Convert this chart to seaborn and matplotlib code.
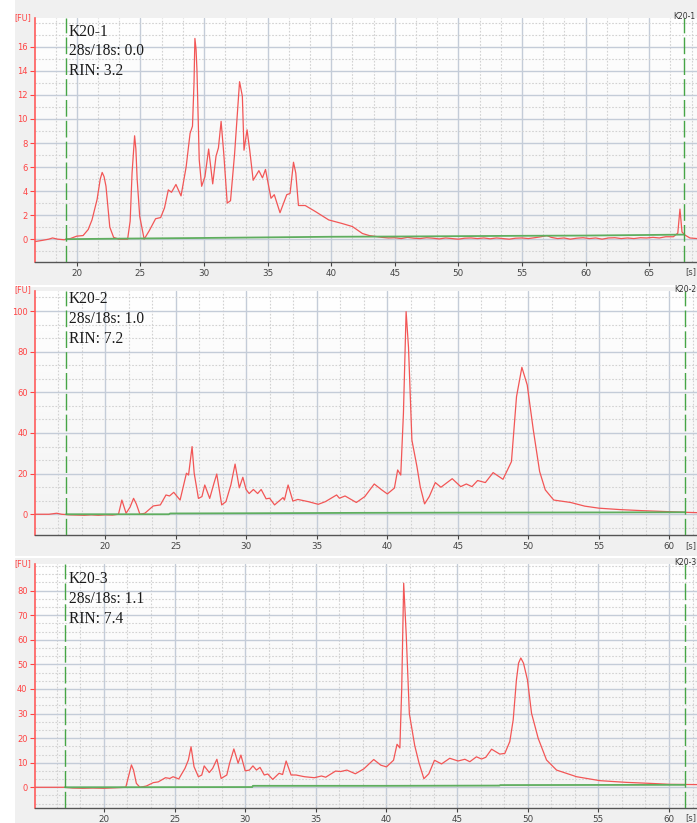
import numpy as np
import pandas as pd
import matplotlib
matplotlib.use("Agg")
import matplotlib.pyplot as plt
import seaborn as sns
from matplotlib.patches import Rectangle
from matplotlib.ticker import MultipleLocator
from matplotlib.colors import LinearSegmentedColormap

# ---------------- data ----------------
sample_names = ["K20-1", "K20-2", "K20-3"]
ratio_28s_18s = [0.0, 1.0, 1.1]
rin_values = [3.2, 7.2, 7.4]

# K20-1 electropherogram (time [s], fluorescence [FU])
t1 = [16.72, 17.3, 17.8, 18.1, 18.5, 19.0, 19.5, 20.0, 20.5, 20.9, 21.2, 21.6, 21.85,
      22.0, 22.15, 22.3, 22.6, 22.9, 23.3, 24.0, 24.2, 24.35, 24.55, 24.65, 24.75, 24.95,
      25.3, 25.7, 26.2, 26.6, 26.9, 27.2, 27.45, 27.8, 28.2, 28.6, 28.91, 29.1, 29.22,
      29.29, 29.38, 29.45, 29.63, 29.82, 30.08, 30.37, 30.69, 30.95, 31.14, 31.35, 31.56,
      31.83, 32.09, 32.41, 32.8, 33.02, 33.15, 33.39, 33.6, 33.87, 34.32, 34.6, 34.84,
      35.27, 35.53, 35.98, 36.51, 36.77, 37.04, 37.22, 37.43, 37.96, 38.76, 39.81, 40.87,
      41.67, 42.46, 43.0, 44.0, 44.5, 45.0, 45.5, 46.0, 46.5, 47.0, 47.5, 48.0, 48.5, 49.0,
      49.5, 50.0, 50.5, 51.0, 51.5, 52.0, 52.5, 53.0, 53.5, 54.0, 54.5, 55.0, 55.5, 56.0,
      56.5, 56.96, 57.3, 57.8, 58.3, 58.8, 59.3, 59.8, 60.3, 60.8, 61.3, 61.8, 62.3, 62.8,
      63.3, 63.8, 64.3, 64.8, 65.3, 65.8, 66.3, 66.9, 67.25, 67.42, 67.58, 67.8, 68.2, 68.76]
v1 = [-0.2, -0.1, 0.0, 0.1, 0.0, -0.05, 0.05, 0.25, 0.3, 0.8, 1.6, 3.3, 5.0,
      5.55, 5.2, 4.4, 1.0, 0.15, 0.0, 0.0, 1.5, 5.5, 8.6, 7.5, 5.0, 1.9,
      0.0, 0.7, 1.7, 1.8, 2.6, 4.1, 3.9, 4.55, 3.6, 6.0, 8.8, 9.4, 13.0,
      16.7, 15.8, 14.1, 6.6, 4.4, 5.2, 7.5, 4.6, 6.9, 7.6, 9.8, 7.1,
      3.0, 3.2, 7.1, 13.1, 11.9, 7.4, 9.1, 7.4, 4.9, 5.7, 5.1, 5.8,
      3.4, 3.7, 2.2, 3.7, 3.8, 6.4, 5.5, 2.8, 2.8, 2.3, 1.6, 1.3,
      1.05, 0.47, 0.3, 0.15, 0.1, 0.12, 0.05, 0.15, 0.08, 0.05, 0.12, 0.08, 0.02, 0.1,
      0.05, 0.0, 0.08, 0.1, 0.05, 0.1, 0.03, 0.1, 0.05, 0.0, 0.08, 0.1, 0.05, 0.12,
      0.2, 0.3, 0.15, 0.05, 0.1, 0.0, 0.08, 0.12, 0.05, 0.1, 0.0, 0.1, 0.12, 0.05,
      0.1, 0.05, 0.12, 0.1, 0.15, 0.1, 0.2, 0.2, 0.5, 2.5, 0.6, 0.35, 0.1, 0.05]
g1x = [19.16, 24.0, 30.0, 35.0, 40.0, 45.0, 50.0, 55.0, 60.0, 65.0, 67.76]
g1y = [0.0, 0.05, 0.1, 0.15, 0.2, 0.22, 0.25, 0.28, 0.3, 0.35, 0.38]

# K20-2
t2 = [15.01, 16.0, 16.55, 16.9, 17.5, 18.5, 19.0, 19.5, 20.0, 20.5, 20.93, 21.17, 21.47,
      21.75, 22.0, 22.2, 22.45, 22.8, 23.4, 23.9, 24.3, 24.55, 24.85, 25.3, 25.75, 25.9,
      26.15, 26.3, 26.6, 26.85, 27.05, 27.4, 27.7, 27.9, 28.25, 28.55, 28.9, 29.2, 29.5,
      29.75, 29.98, 30.2, 30.5, 30.8, 31.05, 31.4, 31.65, 32.0, 32.6, 32.7, 32.96, 33.3,
      33.65, 34.4, 35.1, 35.6, 36.4, 36.6, 37.0, 37.8, 38.4, 39.07, 39.6, 40.0, 40.5,
      40.73, 40.95, 41.14, 41.33, 41.5, 41.74, 42.1, 42.33, 42.64, 42.97, 43.4, 43.8,
      44.6, 45.2, 45.6, 46.0, 46.4, 46.95, 47.5, 48.2, 48.8, 49.16, 49.54, 49.92, 50.35,
      50.8, 51.2, 51.8, 53.0, 54.0, 55.0, 56.5, 58.0, 59.5, 61.0, 61.96]
v2 = [0, 0, 0.5, 0, -0.3, -0.5, -0.3, -0.5, -0.3, -0.4, 0, 7.0, 0.5,
      3.5, 7.85, 5.0, 0, 0.5, 4.1, 4.6, 9.5, 9.0, 10.8, 7.0, 20.2, 19.3,
      33.3, 20.2, 7.8, 8.7, 14.4, 7.8, 15.2, 19.8, 4.6, 6.2, 14.4, 24.7, 13.0,
      18.2, 12.2, 10.2, 12.2, 10.2, 12.2, 7.6, 7.9, 4.6, 8.2, 7.0, 14.4, 6.5,
      7.3, 6.2, 4.9, 6.2, 9.5, 7.9, 9.0, 5.8, 8.7, 14.9, 12.0, 10.0, 12.9,
      21.8, 19.3, 49.7, 99.7, 82.0, 36.5, 23.4, 13.6, 5.1, 8.7, 15.6, 13.3,
      17.5, 13.6, 14.9, 13.6, 16.6, 15.6, 20.5, 17.2, 25.9, 57.9, 72.3, 63.6, 41.5,
      21.0, 12.0, 7.0, 5.8, 4.0, 3.0, 2.3, 1.8, 1.4, 1.0, 0.8]
g2x = [17.21, 24.5, 24.6, 30.0, 38.3, 45.0, 55.0, 61.11]
g2y = [0.0, 0.0, 0.4, 0.5, 0.7, 0.8, 0.9, 1.0]

# K20-3
t3 = [15.09, 16.5, 17.2, 17.8, 18.5, 19.2, 20.0, 20.8, 21.55, 21.75, 21.95, 22.1, 22.3,
      22.55, 23.0, 23.5, 23.85, 24.36, 24.67, 24.9, 25.3, 25.74, 25.98, 26.17, 26.38,
      26.69, 26.93, 27.1, 27.46, 27.7, 28.0, 28.3, 28.7, 28.9, 29.2, 29.5, 29.7, 30.0,
      30.3, 30.55, 30.8, 31.05, 31.35, 31.6, 31.95, 32.4, 32.65, 32.9, 33.25, 33.6, 34.2,
      34.9, 35.4, 35.7, 36.4, 36.75, 37.2, 37.8, 38.4, 39.1, 39.6, 40.0, 40.5, 40.75,
      40.95, 41.08, 41.22, 41.4, 41.62, 42.0, 42.3, 42.65, 43.0, 43.4, 43.9, 44.48, 45.07,
      45.55, 45.9, 46.37, 46.73, 47.03, 47.44, 48.02, 48.38, 48.73, 48.97, 49.2, 49.35,
      49.51, 49.7, 49.98, 50.27, 50.74, 51.33, 52.04, 53.46, 55.1, 56.99, 58.65, 60.06,
      61.98]
v3 = [0, 0, 0, -0.3, -0.4, -0.3, -0.4, -0.2, 0, 4.5, 9.1, 7.0, 1.6,
      0, 0.5, 1.9, 2.2, 3.9, 3.6, 4.3, 3.4, 7.7, 11.1, 16.5, 8.4,
      4.3, 5.0, 8.7, 6.0, 7.7, 11.4, 3.6, 5.0, 9.8, 15.6, 9.8, 13.1, 6.7,
      7.0, 8.7, 7.0, 8.1, 5.0, 5.4, 3.2, 5.7, 5.2, 10.7, 5.0, 5.0, 4.3,
      3.9, 4.6, 4.1, 6.6, 6.4, 7.0, 5.5, 7.5, 11.3, 9.0, 8.3, 11.0, 17.5,
      16.0, 40.0, 83.0, 62.0, 30.0, 17.0, 10.0, 3.5, 5.5, 11.0, 9.5, 11.8, 10.7,
      11.4, 10.4, 12.4, 11.5, 12.2, 15.5, 13.5, 13.8, 18.6, 27.4, 43.7, 50.5,
      52.6, 50.5, 43.7, 30.1, 19.9, 11.1, 7.0, 4.3, 2.7, 2.0, 1.6, 1.2,
      1.1]
g3x = [17.24, 30.5, 30.55, 40.0, 48.0, 48.05, 61.15]
g3y = [0.0, 0.1, 0.6, 0.6, 0.7, 0.9, 1.0]

ladder_marks = [(19.16, 67.76), (17.21, 61.11), (17.24, 61.15)]
x_ticks = [list(range(20, 70, 5)), list(range(20, 65, 5)), list(range(20, 65, 5))]
y_ticks = [list(range(0, 17, 2)), list(range(0, 101, 20)), list(range(0, 81, 10))]
y_minor = [1.0, 20 / 3, 10 / 3]
x_lims = [(16.72, 68.76), (15.01, 61.96), (15.09, 61.98)]
y_lims = [(-1.9, 18.4), (-10.2, 110.0), (-8.3, 90.7)]

traces = [(t1, v1, g1x, g1y), (t2, v2, g2x, g2y), (t3, v3, g3x, g3y)]

# ---------------- layout (pixels) ----------------
W, H = 697, 823
ax_px = [(35, 18, 262), (35, 290.7, 535), (34.5, 564.3, 807.7)]   # left, top, bottom
bg_px = [(0, 285), (287, 556), (558, 823)]
text_base = [(36, 55, 75), (303.3, 322.7, 342.7), (583.3, 603.3, 623.3)]
tick_lbl_y = [271.5, 546, 817.5]

sns.set_theme(style="white")
plt.rcParams["font.family"] = ["DejaVu Sans"]

fig = plt.figure(figsize=(W / 100, H / 100), dpi=100, facecolor="white")

grad_cmap = LinearSegmentedColormap.from_list("g", ["#ffffff", "#f3f3f3"])
red = "#f25656"
green_line = "#5fae5f"
green_dash = "#46a546"

for i in range(3):
    left, top, bottom = ax_px[i]
    # panel background
    y0, y1 = bg_px[i]
    fig.patches.append(Rectangle((15 / W, 1 - y1 / H), 1 - 15 / W, (y1 - y0) / H,
                                 transform=fig.transFigure, facecolor="#f0f0f0",
                                 edgecolor="none", zorder=-10))
    ax = fig.add_axes([left / W, 1 - bottom / H, (W - left) / W, (bottom - top) / H])
    ax.set_facecolor("white")
    grad = np.linspace(0, 1, 256).reshape(-1, 1)
    ax.imshow(grad, cmap=grad_cmap, extent=(0, 1, 0, 1), transform=ax.transAxes,
              aspect="auto", zorder=-1, origin="upper")

    t, v, gx, gy = traces[i]
    df = pd.DataFrame({"time": t, "fu": v})
    dg = pd.DataFrame({"time": gx, "fu": gy})
    sns.lineplot(data=df, x="time", y="fu", ax=ax, color=red, linewidth=0.9,
                 estimator=None, sort=False, zorder=3)
    sns.lineplot(data=dg, x="time", y="fu", ax=ax, color=green_line, linewidth=1.3,
                 estimator=None, sort=False, zorder=4)
    for xm in ladder_marks[i]:
        ax.axvline(xm, color=green_dash, linewidth=1.0, linestyle=(0, (12, 3)), zorder=5)

    ax.set_xlim(*x_lims[i])
    ax.set_ylim(*y_lims[i])
    ax.set_xticks(x_ticks[i])
    ax.set_yticks(y_ticks[i])
    ax.xaxis.set_minor_locator(MultipleLocator(5 / 3))
    ax.yaxis.set_minor_locator(MultipleLocator(y_minor[i]))
    ax.set_axisbelow(True)
    ax.grid(which="major", color="#c4ccd8", linewidth=1.0)
    ax.grid(which="minor", color="#d2d2d2", linewidth=0.8, linestyle=(0, (1.5, 1.5)))
    ax.set_xlabel("")
    ax.set_ylabel("")

    for s in ["top", "right"]:
        ax.spines[s].set_visible(False)
    ax.spines["left"].set_color("#ff5c5c")
    ax.spines["left"].set_linewidth(1.2)
    ax.spines["bottom"].set_color("#555555")
    ax.spines["bottom"].set_linewidth(1.0)
    ax.tick_params(axis="y", which="major", colors="#ff4444", labelsize=6,
                   length=3.5, width=0.8, pad=1.5, left=True)
    ax.tick_params(axis="x", which="major", colors="#444444", labelsize=6.3,
                   length=3, width=0.8, pad=2, bottom=True)
    ax.tick_params(which="minor", length=0)

    # unit labels
    ax.annotate("[FU]", xy=(0, 1), xycoords="axes fraction", xytext=(-2.5, 0.5),
                textcoords="offset points", ha="right", va="center",
                fontsize=5.8, color="#ff4444")
    fig.text(685 / W, 1 - tick_lbl_y[i] / H, "[s]", fontsize=6.0, color="#444444",
             ha="left", va="center")
    # sample tag at top of right marker
    ax.text(ladder_marks[i][1], 1.006, sample_names[i],
            transform=ax.get_xaxis_transform(), ha="center", va="center",
            fontsize=5.5, color="#333333", clip_on=False, zorder=6)

    # info text
    lines = [sample_names[i], f"28s/18s: {ratio_28s_18s[i]:.1f}", f"RIN: {rin_values[i]:.1f}"]
    for k, s in enumerate(lines):
        fig.text(69 / W, 1 - text_base[i][k] / H, s, fontsize=11.2,
                 family=["Liberation Serif", "DejaVu Serif"], color="#1a1a1a",
                 ha="left", va="baseline", zorder=10)

fig.savefig("out.png", dpi=100, facecolor="white")
